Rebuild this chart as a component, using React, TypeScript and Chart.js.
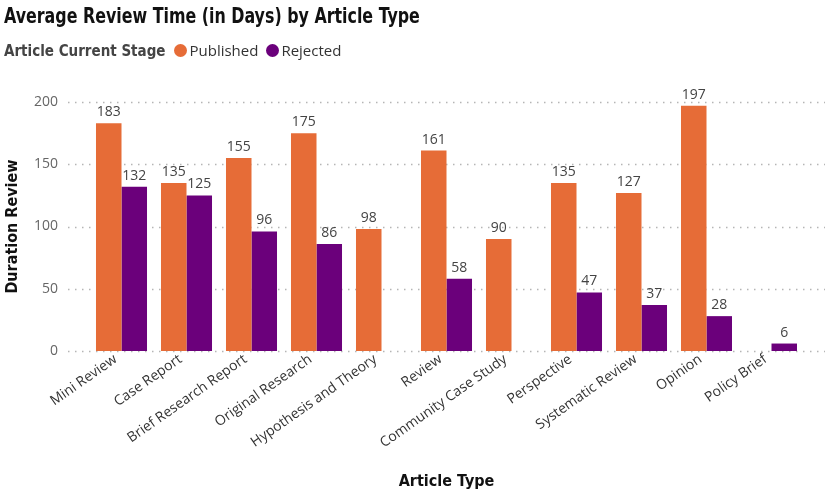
import React, { useEffect, useRef } from 'react';
import Chart from 'chart.js/auto';

const articleTypes = [
  'Mini Review',
  'Case Report',
  'Brief Research Report',
  'Original Research',
  'Hypothesis and Theory',
  'Review',
  'Community Case Study',
  'Perspective',
  'Systematic Review',
  'Opinion',
  'Policy Brief',
];
const publishedDays = [183, 135, 155, 175, 98, 161, 90, 135, 127, 197, null];
const rejectedDays = [132, 125, 96, 86, null, 58, null, 47, 37, 28, 6];
const yTicks = [0, 50, 100, 150, 200];

const ORANGE = '#E66C37';
const PURPLE = '#6B007B';
const LABEL_FONT = '"Open Sans", "Noto Sans", sans-serif';
const TITLE_FONT = '"DejaVu Sans Condensed", "DejaVu Sans", sans-serif';

// dotted gridlines that run a bit past the bars, like Power BI
const dottedGrid = {
  id: 'dottedGrid',
  beforeDatasetsDraw(chart: any) {
    const { ctx, chartArea, scales } = chart;
    ctx.save();
    ctx.strokeStyle = '#b5b5b5';
    ctx.lineWidth = 1.5;
    ctx.setLineDash([1.5, 5.5]);
    yTicks.forEach((v) => {
      const y = Math.round(scales.y.getPixelForValue(v)) + 0.5;
      ctx.beginPath();
      ctx.moveTo(chartArea.left - 21, y);
      ctx.lineTo(chartArea.right + 21, y);
      ctx.stroke();
    });
    ctx.restore();
  },
};

const valueLabels = {
  id: 'valueLabels',
  afterDatasetsDraw(chart: any) {
    const { ctx } = chart;
    ctx.save();
    ctx.font = `14px ${LABEL_FONT}`;
    ctx.fillStyle = '#444';
    ctx.textAlign = 'center';
    ctx.textBaseline = 'bottom';
    chart.data.datasets.forEach((ds: any, i: number) => {
      const meta = chart.getDatasetMeta(i);
      meta.data.forEach((bar: any, j: number) => {
        const v = ds.data[j];
        if (v == null) return;
        ctx.fillText(String(v), bar.x, bar.y - 4);
      });
    });
    ctx.restore();
  },
};

const App: React.FC = () => {
  const chartRef = useRef<HTMLCanvasElement>(null);
  const chartInstance = useRef<Chart | null>(null);

  useEffect(() => {
    if (!chartRef.current) return;
    if (chartInstance.current) chartInstance.current.destroy();

    const ctx = chartRef.current.getContext('2d');
    if (!ctx) return;

    chartInstance.current = new Chart(ctx, {
      type: 'bar',
      data: {
        labels: articleTypes,
        datasets: [
          {
            label: 'Published',
            data: publishedDays,
            backgroundColor: ORANGE,
            borderWidth: 0,
            categoryPercentage: 0.785,
            barPercentage: 1,
          },
          {
            label: 'Rejected',
            data: rejectedDays,
            backgroundColor: PURPLE,
            borderWidth: 0,
            categoryPercentage: 0.785,
            barPercentage: 1,
          },
        ],
      },
      options: {
        responsive: false,
        animation: false,
        layout: { padding: { top: 102, right: 25, left: 0, bottom: 0 } },
        plugins: {
          legend: { display: false },
          tooltip: { enabled: false },
        },
        scales: {
          x: {
            grid: { display: false, drawTicks: false },
            border: { display: false },
            ticks: {
              autoSkip: false,
              minRotation: 35,
              maxRotation: 35,
              padding: 0,
              labelOffset: -6,
              color: '#333',
              font: { family: LABEL_FONT, size: 14 },
            },
            title: {
              display: true,
              text: 'Article Type',
              color: '#111',
              font: { family: TITLE_FONT, size: 16, weight: 'bold' },
              padding: { top: 0, bottom: 4 },
            },
            afterFit(scale: any) {
              scale.height = 144;
            },
          },
          y: {
            min: 0,
            max: 200,
            grid: { display: false, drawTicks: false },
            border: { display: false },
            afterBuildTicks(scale: any) {
              scale.ticks = yTicks.map((v) => ({ value: v }));
            },
            ticks: {
              padding: 31,
              color: '#666',
              font: { family: LABEL_FONT, size: 14 },
            },
            title: {
              display: true,
              text: 'Duration Review',
              color: '#111',
              font: { family: TITLE_FONT, size: 16, weight: 'bold' },
              padding: { top: 3, bottom: 0 },
            },
            afterFit(scale: any) {
              scale.width = 89;
            },
          },
        },
      },
      plugins: [dottedGrid, valueLabels],
    });

    return () => {
      if (chartInstance.current) {
        chartInstance.current.destroy();
        chartInstance.current = null;
      }
    };
  }, []);

  const dot = (color: string) => (
    <span
      style={{
        display: 'inline-block',
        width: 13,
        height: 13,
        borderRadius: '50%',
        background: color,
        marginRight: 2,
        verticalAlign: '-1px',
      }}
    />
  );

  return (
    <div style={{ position: 'absolute', left: 0, top: 0, width: 829, height: 495, background: '#fff', overflow: 'hidden' }}>
      <canvas ref={chartRef} width={829} height={495} style={{ position: 'absolute', left: 0, top: 0 }} />
      <div
        style={{
          position: 'absolute',
          left: 4,
          top: 4,
          fontFamily: TITLE_FONT,
          fontWeight: 'bold',
          fontSize: 21,
          color: '#111',
          whiteSpace: 'nowrap',
          transform: 'scaleX(0.84)',
          transformOrigin: 'left top',
        }}
      >
        Average Review Time (in Days) by Article Type
      </div>
      <div
        style={{
          position: 'absolute',
          left: 4,
          top: 40,
          fontSize: 15,
          color: '#333',
          whiteSpace: 'nowrap',
          fontFamily: LABEL_FONT,
        }}
      >
        <span style={{ fontFamily: TITLE_FONT, fontWeight: 'bold', fontSize: 15, color: '#444', marginRight: 9 }}>
          Article Current Stage
        </span>
        {dot(ORANGE)}
        <span style={{ marginRight: 8 }}>Published</span>
        {dot(PURPLE)}
        <span>Rejected</span>
      </div>
    </div>
  );
};

export default App;
